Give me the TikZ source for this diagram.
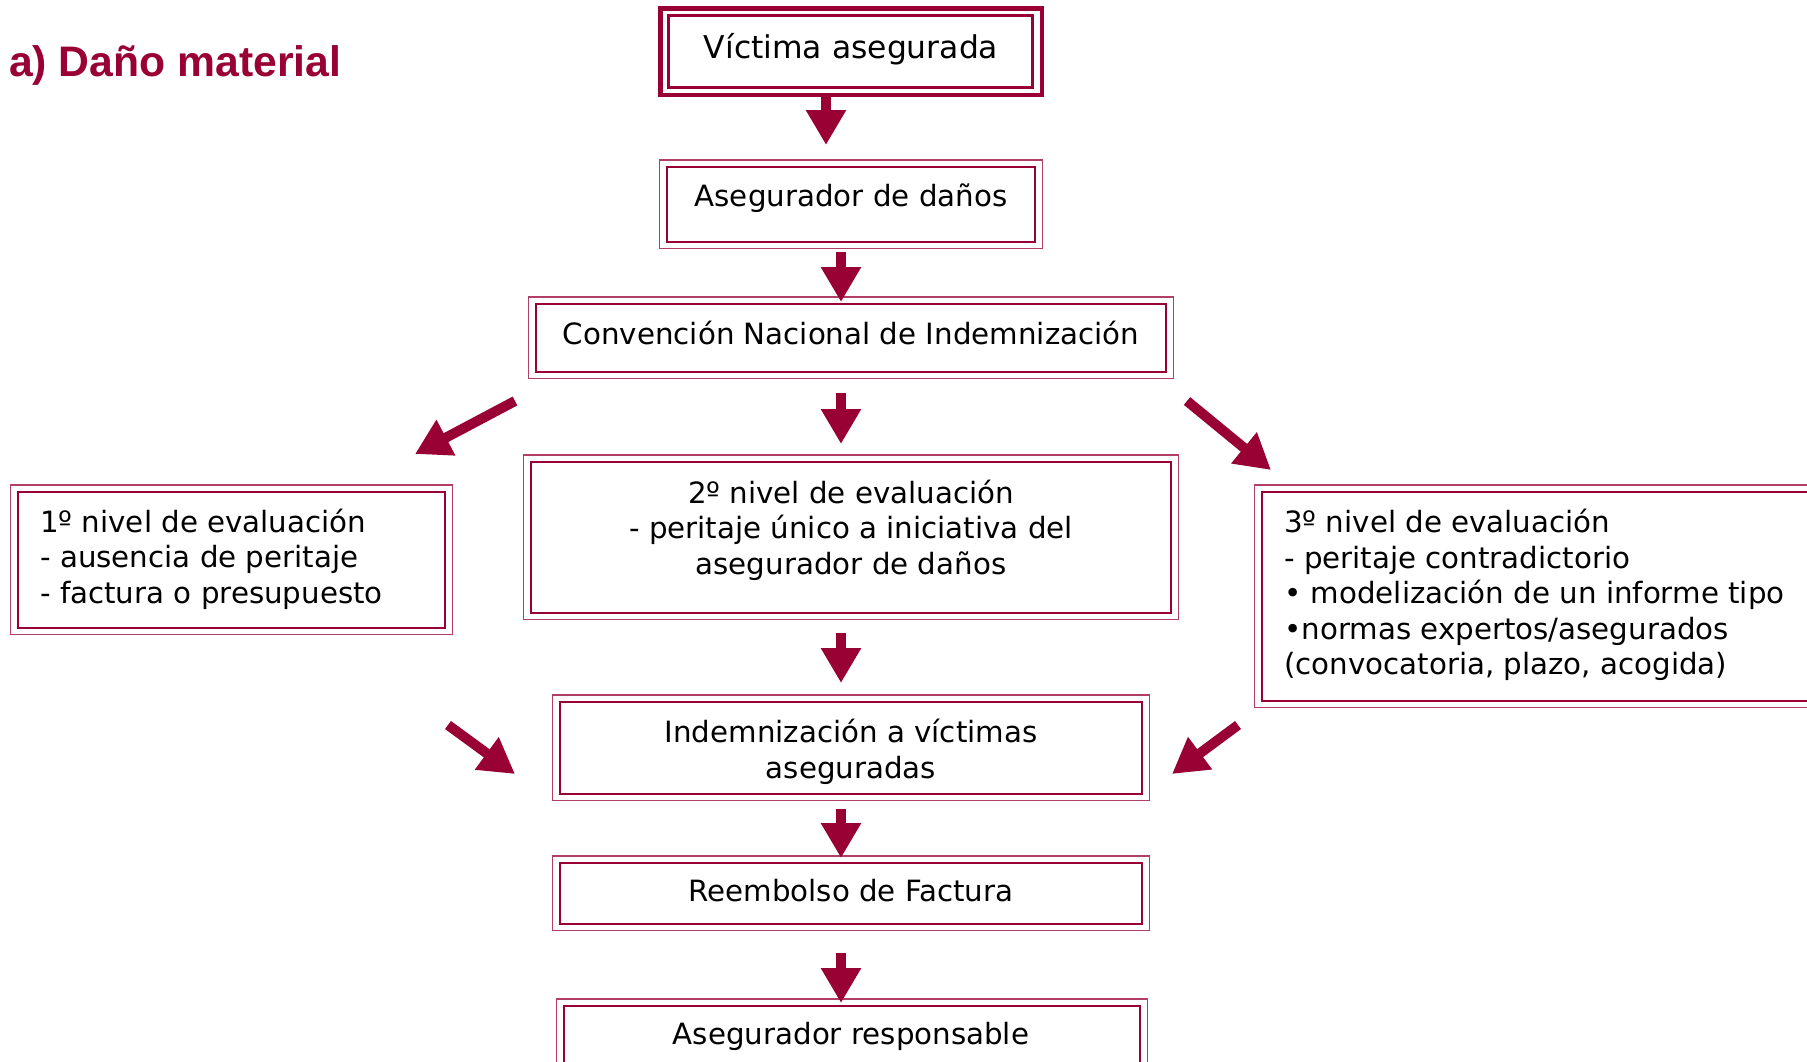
\documentclass[tikz,border=0pt]{standalone}
\usepackage{fontspec}
\setmainfont{DejaVu Sans}
\newfontfamily\titlefont{Liberation Sans}
\usetikzlibrary{arrows.meta}
\definecolor{crim}{RGB}{153,0,51}
\begin{document}
\begin{tikzpicture}[x=1pt,y=-1pt,
  inbox/.style={draw=crim, line width=2pt, inner sep=0pt},
  outline/.style={draw=crim!75, line width=1.3pt},
  txt/.style={font=\fontsize{29.3}{35.6}\selectfont, inner sep=0pt},
  barrow/.style={draw=crim, line width=10pt, -{Triangle[width=38pt,length=35pt,fill=crim]}},
]
\useasboundingbox (0,0) rectangle (1807,1061);
\clip (0,0) rectangle (1807,1061);

% title
\node[anchor=base west, inner sep=0pt, text=crim, font=\titlefont\bfseries\fontsize{42.7}{50}\selectfont] (title) at (9,76) {a) Daño material};

% boxes (inner frames)
\node[inbox, line width=2.5pt, minimum width=364pt, minimum height=72pt] (v) at (850.5,51.5) {};
\node[inbox, minimum width=368pt, minimum height=75pt] (a) at (851,204.5) {};
\node[inbox, minimum width=630pt, minimum height=68pt] (c) at (851,338) {};
\node[inbox, minimum width=427pt, minimum height=136pt] (n1) at (231.5,560) {};
\node[inbox, minimum width=640pt, minimum height=151pt] (n2) at (851,537.5) {};
\node[inbox, minimum width=638pt, minimum height=209pt] (n3) at (1581,596.5) {};
\node[inbox, minimum width=582pt, minimum height=92pt] (i) at (851,748) {};
\node[inbox, minimum width=582pt, minimum height=61pt] (r) at (851,893.5) {};
\node[inbox, minimum width=576pt, minimum height=84pt] (ar) at (852,1048) {};

% outer frames
\draw[draw=crim, line width=4.5pt] ([shift={(-7pt,6pt)}]v.north west) rectangle ([shift={(8pt,-6pt)}]v.south east);
\foreach \n in {a,c,n1,n2,n3,i,r,ar}
  \draw[outline] ([shift={(-6.5pt,6pt)}]\n.north west) rectangle ([shift={(6.5pt,-5.5pt)}]\n.south east);

% texts
\node[txt, font=\fontsize{31.4}{38}\selectfont] (vt) at (851,49.5) {Víctima asegurada};
\node[txt] (at) at (851,198.5) {Asegurador de daños};
\node[txt] (ct) at (851,333) {Convención Nacional de Indemnización};
\node[txt, align=center] (n2t) at (851,530) {2º nivel de evaluación\\- peritaje único a iniciativa del\\asegurador de daños};
\node[txt, align=left, anchor=west] (n1t) at (40,559) {1º nivel de evaluación\\- ausencia de peritaje\\- factura o presupuesto};
\node[txt, align=left, anchor=west] (n3t) at (1284,595) {3º nivel de evaluación\\- peritaje contradictorio\\• modelización de un informe tipo\\•normas expertos/asegurados\\(convocatoria, plazo, acogida)};
\node[txt, align=center] (it) at (851,752) {Indemnización a víctimas\\aseguradas};
\node[txt] (rt) at (851,890.5) {Reembolso de Factura};
\node[txt] (art) at (851,1036.5) {Asegurador responsable};

% arrow end points
\coordinate (a1s) at (826,95);   \coordinate (a1e) at (826,145);
\coordinate (a2s) at (841,252);  \coordinate (a2e) at (841,302);
\coordinate (a3s) at (841,393);  \coordinate (a3e) at (841,444);
\coordinate (a4s) at (841,633);  \coordinate (a4e) at (841,683);
\coordinate (a5s) at (841,809);  \coordinate (a5e) at (841,858);
\coordinate (a6s) at (841,953);  \coordinate (a6e) at (841,1003);
\coordinate (d1s) at (515,401);  \coordinate (d1e) at (415,454);
\coordinate (d2s) at (1187,401); \coordinate (d2e) at (1271,470);
\coordinate (d3s) at (448,725);  \coordinate (d3e) at (515,774);
\coordinate (d4s) at (1238,725); \coordinate (d4e) at (1172,774);

\foreach \s/\e in {a1s/a1e,a2s/a2e,a3s/a3e,a4s/a4e,a5s/a5e,a6s/a6e,d1s/d1e,d2s/d2e,d3s/d3e,d4s/d4e}
  \draw[barrow] (\s) -- (\e);
\end{tikzpicture}
\end{document}
